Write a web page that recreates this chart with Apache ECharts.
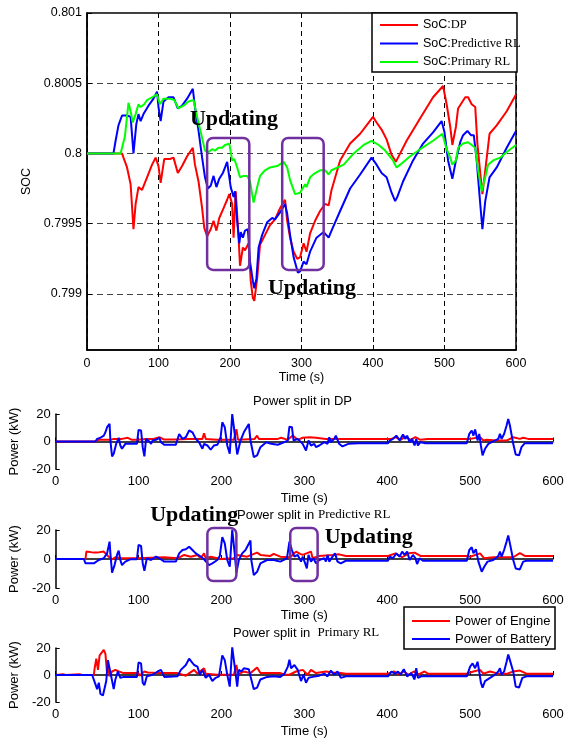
<!DOCTYPE html>
<html>
<head>
<meta charset="utf-8">
<script src="https://cdn.jsdelivr.net/npm/echarts@6/dist/echarts.min.js"></script>
<style>
  html, body { margin: 0; padding: 0; background: #fff; }
  #chart { width: 567px; height: 739px; }
</style>
</head>
<body>
<div id="chart"></div>
<script>
// SOC traces, [time (s), SOC]
const socDP = [[0,0.8],[49,0.8],[51,0.79997],[56,0.7999],[61,0.79978],[65,0.79946],[68,0.79964],[72,0.79976],[77,0.79974],[84,0.79983],[91,0.79992],[96,0.79997],[100,0.79991],[103,0.79979],[108,0.79996],[116,0.79996],[121,0.79997],[127,0.79986],[133,0.79991],[140,0.79998],[148,0.80004],[151,0.79992],[156,0.7998],[161,0.79961],[164,0.79947],[168,0.79941],[173,0.79946],[177,0.79952],[181,0.79945],[185,0.79954],[191,0.79961],[196,0.79967],[199,0.79971],[203,0.79964],[205,0.7994],[208,0.79973],[212,0.7994],[214,0.7992],[218,0.79933],[221,0.79931],[226,0.79936],[229,0.79909],[232,0.79897],[234,0.79895],[238,0.79911],[242,0.79935],[249,0.79942],[256,0.79949],[263,0.79953],[270,0.79961],[277,0.79967],[280,0.79952],[284,0.7994],[289,0.7993],[294,0.79925],[298,0.79926],[303,0.79936],[307,0.7993],[312,0.79943],[319,0.79952],[326,0.79959],[333,0.79964],[338,0.79963],[342,0.79974],[354,0.79995],[368,0.80007],[382,0.80014],[391,0.8002],[400,0.80026],[405,0.80022],[412,0.80017],[419,0.8001],[426,0.79999],[432,0.79994],[435,0.79997],[447,0.80009],[466,0.80025],[484,0.8004],[498,0.80048],[503,0.80035],[508,0.80019],[511,0.80006],[516,0.80019],[519,0.80032],[529,0.8004],[533,0.8004],[538,0.80035],[543,0.80033],[546,0.80007],[550,0.79986],[553,0.79971],[557,0.79988],[563,0.80014],[573,0.8002],[587,0.8003],[600,0.80042]];
const socPred = [[0,0.8],[37,0.8],[40,0.80009],[44,0.8002],[49,0.80027],[56,0.80027],[61,0.80026],[65,0.8],[69,0.80021],[72,0.80028],[75,0.80023],[79,0.80028],[86,0.80034],[93,0.80039],[98,0.80044],[100,0.80033],[103,0.80023],[107,0.80037],[114,0.8004],[121,0.8004],[127,0.80032],[133,0.80034],[140,0.80039],[148,0.80046],[151,0.80033],[156,0.80016],[161,0.79997],[165,0.79983],[169,0.79975],[173,0.79977],[177,0.79984],[181,0.79976],[185,0.79982],[190,0.79986],[196,0.79994],[198,0.79995],[201,0.79976],[205,0.79969],[207,0.79973],[210,0.79952],[213,0.79936],[215,0.79944],[218,0.7994],[221,0.79945],[225,0.79946],[228,0.79923],[232,0.79909],[234,0.79904],[237,0.79911],[240,0.79933],[245,0.79942],[252,0.79951],[259,0.79954],[263,0.79953],[270,0.79958],[277,0.79964],[280,0.79957],[284,0.79942],[289,0.79926],[295,0.79915],[298,0.79916],[303,0.79923],[307,0.79921],[312,0.7993],[321,0.7994],[331,0.79944],[338,0.7994],[342,0.79945],[354,0.79959],[368,0.79975],[382,0.79985],[398,0.79997],[405,0.79992],[412,0.79986],[419,0.79983],[426,0.79972],[431,0.79966],[434,0.79969],[442,0.7998],[456,0.79995],[470,0.80007],[484,0.80015],[496,0.80023],[500,0.80015],[505,0.79995],[511,0.79982],[516,0.79995],[522,0.80008],[526,0.80013],[532,0.80016],[537,0.80013],[541,0.80013],[545,0.79995],[550,0.79964],[553,0.79946],[557,0.79966],[563,0.79983],[573,0.7999],[587,0.80004],[600,0.80016]];
const socPrim = [[0,0.8],[47,0.8],[49,0.80004],[53,0.80012],[58,0.80036],[61,0.8003],[64,0.80022],[68,0.80028],[72,0.80035],[75,0.80033],[80,0.80035],[84,0.80038],[91,0.8004],[98,0.80042],[102,0.80035],[107,0.80039],[116,0.80039],[122,0.80038],[128,0.80032],[135,0.80034],[142,0.80037],[149,0.80038],[154,0.80026],[161,0.80011],[165,0.80002],[170,0.80001],[175,0.80003],[179,0.80002],[184,0.80004],[189,0.80004],[193,0.80006],[199,0.80007],[203,0.79995],[206,0.79996],[210,0.7999],[214,0.79983],[219,0.79984],[224,0.79984],[228,0.7998],[233,0.79965],[238,0.79976],[242,0.79984],[249,0.79988],[256,0.7999],[266,0.79991],[275,0.79994],[280,0.7999],[284,0.79981],[291,0.79971],[298,0.79972],[305,0.79978],[307,0.79976],[312,0.79983],[319,0.79986],[326,0.79988],[333,0.79988],[338,0.79985],[342,0.79988],[359,0.79992],[373,0.8],[387,0.80006],[398,0.80009],[408,0.80006],[417,0.80002],[428,0.79995],[433,0.7999],[438,0.79992],[452,0.79998],[466,0.80003],[484,0.80009],[497,0.80014],[503,0.80003],[508,0.79997],[511,0.79992],[516,0.79995],[519,0.80004],[526,0.80007],[533,0.80008],[538,0.80006],[543,0.80004],[547,0.79988],[552,0.79973],[557,0.79983],[561,0.79992],[568,0.79995],[578,0.79997],[587,0.80001],[600,0.80006]];

// power split traces, [time (s), kW]
const engDP = [[0,0],[48,0],[52,1.2],[66,1.2],[70,1.9],[80,1.9],[87,2.7],[92,1.2],[99,1.2],[110,1.9],[118,1.9],[125,3.1],[131,1.4],[145,1.4],[160,1.9],[177,1.9],[179,6.0],[181,1.9],[195,1.2],[215,1.2],[218,9.0],[220,1.2],[240,1.9],[243,4.3],[245,1.9],[268,1.9],[272,2.7],[280,1.2],[286,4.3],[292,1.2],[298,2.7],[306,3.1],[314,2.7],[326,1.9],[405,1.9],[410,3.1],[416,1.2],[422,3.6],[428,1.2],[434,3.1],[440,1.2],[449,1.9],[500,1.9],[512,3.1],[516,0.7],[520,1.2],[532,0.7],[544,0.7],[552,3.1],[560,1.9],[564,2.7],[570,1.9],[600,1.9]];
const batDP = [[0,0],[48,0],[50,1.9],[54,2.7],[58,4.3],[60,6.7],[62,10.4],[65,12.8],[66,0.7],[68,-10.8],[70,-8.9],[73,-1.7],[76,2.7],[78,-2.9],[80,-5.3],[84,-1.7],[98,-1.7],[100,8.4],[103,8.0],[105,-4.1],[107,-10.8],[109,1.9],[113,0],[115,-1.7],[117,0.7],[121,1.2],[125,2.7],[127,-0.5],[131,-2.4],[145,-2.4],[149,5.5],[153,1.9],[157,3.1],[161,8.0],[165,6.7],[169,1.9],[173,-0.5],[177,-5.3],[179,-1.7],[183,-2.9],[187,-6.0],[191,-2.9],[195,-2.4],[199,3.1],[201,14.0],[204,10.4],[207,-2.9],[210,-8.9],[213,20],[216,5.5],[219,-9.4],[223,0.7],[227,6.7],[233,12.8],[235,0.7],[239,-11.3],[243,-10.1],[247,-4.1],[254,-0.5],[260,-1.7],[268,-2.4],[276,-0.5],[280,0.7],[282,10.8],[285,10.4],[287,0.7],[292,1.9],[298,-1.7],[302,-6.5],[305,0.7],[308,-2.9],[312,-1.7],[314,-4.1],[318,-2.9],[324,-0.5],[328,-1.7],[330,3.1],[332,-0.5],[336,1.9],[338,4.3],[342,-1.7],[346,-3.6],[353,-1.7],[365,-1.2],[401,-1.2],[403,0.7],[407,1.9],[411,4.3],[415,0.7],[419,5.1],[422,1.9],[424,4.3],[427,-0.5],[430,1.9],[433,-2.9],[435,1.9],[437,-2.9],[440,-0.5],[445,-1.2],[496,-1.2],[499,5.5],[502,8.0],[504,4.3],[506,8.7],[509,0.7],[511,5.5],[513,-2.9],[515,-10.1],[518,-5.3],[522,-1.7],[526,-0.5],[530,0.7],[534,1.9],[536,5.5],[538,1.9],[541,5.5],[544,11.6],[546,16.4],[548,11.6],[552,-1.7],[555,-9.4],[559,-10.1],[562,-4.1],[566,-1.2],[600,-1.2]];
const engPred = [[0,0],[36,0],[37,5.1],[46,4.4],[50,4.4],[58,5.1],[64,1.6],[68,-0.2],[72,1.2],[80,0.5],[98,0.5],[115,0.9],[131,1.2],[147,0.5],[155,2.8],[163,1.6],[171,2.8],[175,0.5],[179,3.9],[181,0.5],[187,1.6],[199,0],[215,0.5],[219,2.8],[231,1.6],[243,4.4],[247,2.8],[259,2.1],[263,3.5],[271,1.6],[283,1.2],[290,5.1],[295,3.5],[298,2.8],[308,5.1],[310,0.5],[318,2.1],[334,2.8],[342,3.2],[350,2.1],[401,2.1],[410,3.9],[418,1.2],[426,3.9],[433,4.4],[440,2.1],[496,2.1],[500,1.6],[512,3.9],[517,0.5],[528,1.2],[552,1.2],[560,4.0],[566,2.1],[600,2.1]];
const batPred = [[0,0],[8,0],[10,1.2],[13,0],[34,0],[36,-3.0],[46,-3.0],[52,-0.7],[58,0.5],[60,1.6],[62,3.9],[65,12.0],[66,3.9],[68,-9.5],[71,-4.2],[74,2.8],[76,5.8],[78,-0.7],[80,-4.2],[84,-1.8],[90,-0.2],[98,-0.2],[100,9.7],[103,9.0],[105,-3.0],[107,-8.1],[110,0.5],[115,-0.7],[121,1.6],[125,0.5],[131,-1.8],[145,-1.8],[149,3.9],[153,6.2],[157,6.7],[161,8.5],[165,6.2],[169,3.9],[175,1.6],[179,-0.2],[185,-4.2],[189,-3.0],[195,-0.7],[198,2.1],[201,15.0],[204,10.8],[207,-0.7],[210,-5.3],[213,20.1],[216,3.9],[218,-9.5],[221,-0.7],[225,3.9],[229,6.2],[235,12.7],[236,-0.7],[239,-11.1],[243,-8.8],[247,-3.0],[255,-0.7],[263,-0.7],[271,-1.8],[279,0.5],[282,12.0],[285,6.2],[288,1.6],[292,2.8],[296,-1.8],[298,1.6],[301,-3.0],[303,-6.5],[305,2.8],[308,-1.8],[311,0.5],[314,-3.0],[318,-0.7],[324,0.5],[326,-1.8],[328,2.8],[330,-1.8],[334,1.6],[337,3.9],[340,-1.8],[344,-3.0],[350,-1.2],[401,-1.2],[403,1.6],[407,0.5],[411,3.9],[415,1.6],[418,5.1],[421,2.8],[424,5.1],[427,-0.7],[431,2.8],[434,0.5],[436,-3.5],[439,0.5],[443,-1.2],[496,-1.2],[499,6.2],[502,8.1],[504,3.9],[507,6.7],[510,-1.8],[512,-5.3],[514,-8.8],[517,-5.3],[521,-1.8],[528,-0.7],[534,2.1],[536,5.1],[538,1.6],[541,6.2],[544,12.0],[546,16.2],[548,10.8],[552,-0.7],[555,-6.5],[560,-7.2],[564,-1.8],[568,-1.2],[600,-1.2]];
const engPrim = [[0,0],[9,0.5],[12,0],[29,0.5],[32,0],[46,0],[47,5.0],[49,12.1],[51,3.8],[53,14.5],[56,16.9],[58,18.6],[60,15.7],[62,1.4],[63,8.6],[65,-1.0],[68,2.6],[72,3.8],[76,2.6],[82,1.4],[100,1.4],[101,-0.5],[107,2.6],[111,1.9],[123,1.4],[147,1.4],[157,-0.5],[167,3.8],[171,1.0],[179,5.0],[181,1.0],[195,0.2],[215,0.2],[218,7.4],[220,0.2],[227,2.6],[235,1.4],[243,5.5],[247,1.4],[271,1.4],[278,0.2],[282,0.2],[290,2.6],[298,3.8],[304,0.2],[308,3.8],[314,1.4],[326,2.6],[334,1.9],[344,1.4],[350,1.0],[401,1.0],[408,2.6],[414,0.5],[420,2.6],[426,0.2],[432,2.6],[438,0.5],[445,2.6],[449,1.0],[496,1.0],[504,2.6],[512,3.8],[516,1.0],[524,2.6],[534,1.0],[545,1.0],[552,2.6],[560,3.3],[568,1.0],[600,1.0]];
const batPrim = [[0,0],[7,0],[9,1.0],[11,0],[27,0],[29,0.5],[31,0],[44,0],[46,-1.0],[48,-6.9],[50,-10.5],[52,-5.7],[54,-14.0],[57,-15.2],[59,-16.4],[61,-4.5],[63,11.0],[65,12.1],[67,-1.0],[70,-10.5],[72,-3.3],[75,2.6],[78,-2.1],[82,-1.4],[98,-1.4],[100,9.3],[103,8.6],[105,-5.7],[107,-7.6],[110,-1.0],[117,0.2],[123,2.6],[127,3.8],[131,-1.4],[147,-1.0],[151,3.8],[157,7.4],[161,12.1],[164,9.8],[167,7.4],[171,6.2],[174,0.2],[177,3.8],[181,-2.1],[185,0.2],[189,-4.5],[193,-2.1],[197,-1.0],[201,14.5],[204,11.0],[207,0.2],[210,-8.6],[213,20.5],[216,6.2],[219,-8.6],[221,3.8],[224,2.6],[227,5.0],[233,4.3],[235,-1.0],[239,-10.5],[243,-9.3],[247,-3.3],[255,-1.4],[263,-1.0],[271,-1.4],[276,1.0],[280,6.0],[282,11.4],[284,5.0],[288,7.4],[292,3.8],[296,-4.5],[299,0.2],[302,-5.7],[305,-2.1],[310,-1.4],[318,-0.5],[324,1.0],[328,-1.0],[332,3.3],[336,0.2],[340,2.6],[344,-2.1],[350,-1.0],[401,-1.0],[405,2.6],[409,1.0],[413,2.6],[416,0.2],[420,4.3],[424,-1.0],[429,1.4],[433,-3.3],[435,5.0],[437,-2.1],[441,-1.0],[496,-1.0],[500,6.2],[503,8.6],[506,5.0],[509,9.8],[511,2.6],[513,-5.7],[515,-9.3],[518,-4.5],[524,-2.1],[530,0.2],[534,2.6],[536,5.0],[538,0.2],[541,2.6],[544,9.8],[546,15.2],[548,11.0],[552,2.6],[555,-8.6],[559,-9.3],[563,-2.1],[568,-1.0],[600,-1.0]];

const socTicks = [0.799, 0.7995, 0.8, 0.8005, 0.801];
const socNames = ['SoC:DP', 'SoC:Predictive RL', 'SoC:Primary RL'];
const powerNames = ['Power of Engine', 'Power of Battery'];

// "Updating" boxes in data units: [t0, t1, top, bottom]
const updBoxesSoc = [[168, 227, 0.80011, 0.79917], [273, 331, 0.80011, 0.79917]];
const updBoxesPred = [[183, 218, 21.4, -15.2], [283, 316, 21.4, -15.2]];
// "Updating" label anchors: [t, value] (left edge, vertical middle)
const updLabelsSoc = [[144, 0.80024], [253, 0.79904]];
const updLabelsPred = [[114, 30.3], [324.5, 15.2]];

const SANS = 'Liberation Sans';
const SERIF = 'Liberation Serif';
const RED = '#ff0000', BLUE = '#0000ff', GREEN = '#00ff00', PURPLE = '#7030a0';

const chart = echarts.init(document.getElementById('chart'));

const axisLine = { show: true, lineStyle: { color: '#000', width: 1.5 } };

function powerX(i) {
  return {
    gridIndex: i, type: 'value', min: 0, max: 600, interval: 100,
    axisLine: axisLine,
    axisTick: { show: true, inside: true, length: 4, lineStyle: { color: '#000' } },
    axisLabel: { color: '#000', fontSize: 13, margin: 6, fontFamily: SANS },
    splitLine: { show: false },
    name: 'Time (s)', nameLocation: 'middle', nameGap: i === 2 ? 21 : 23,
    nameTextStyle: { color: '#000', fontSize: 13, fontFamily: SANS }
  };
}
function powerY(i) {
  return {
    gridIndex: i, type: 'value', min: -20, max: 20, interval: 20,
    axisLine: axisLine,
    axisTick: { show: true, inside: true, length: 4, lineStyle: { color: '#000' } },
    axisLabel: { color: '#000', fontSize: 13, margin: 5, fontFamily: SANS },
    splitLine: { show: false },
    name: 'Power (kW)', nameLocation: 'middle', nameGap: 29,
    nameTextStyle: { color: '#000', fontSize: 13, fontFamily: SANS }
  };
}
function line(name, data, color, idx) {
  return {
    name: name, type: 'line', data: data, xAxisIndex: idx, yAxisIndex: idx,
    showSymbol: false, symbol: 'none',
    lineStyle: { color: color, width: 2 }, itemStyle: { color: color }
  };
}
const titleRich = {
  a: { fontFamily: SANS, fontSize: 13, fontWeight: 'normal', color: '#000', lineHeight: 14 },
  b: { fontFamily: SERIF, fontSize: 13, fontWeight: 'normal', color: '#000', lineHeight: 14 }
};

chart.setOption({
  animation: false,
  backgroundColor: '#fff',
  textStyle: { fontFamily: SANS },
  title: [
    { text: '{a|Power split in DP}', left: 253, top: 394, padding: 0, textStyle: { fontWeight: 'normal', rich: titleRich } },
    { text: '{a|Power split in }{b|Predictive RL}', left: 237, top: 508, padding: 0, textStyle: { fontWeight: 'normal', rich: titleRich } },
    { text: '{a|Power split in  }{b|Primary RL}', left: 233, top: 626, padding: 0, textStyle: { fontWeight: 'normal', rich: titleRich } }
  ],
  grid: [
    { left: 87, top: 13, width: 429, height: 337, show: true, borderColor: '#000', borderWidth: 1.5, backgroundColor: 'transparent' },
    { left: 52, top: 414, width: 501, height: 55 },
    { left: 52, top: 530, width: 501, height: 58 },
    { left: 52, top: 648, width: 501, height: 56 }
  ],
  xAxis: [
    {
      gridIndex: 0, type: 'value', min: 0, max: 600, interval: 100,
      axisLine: axisLine,
      axisTick: { show: true, inside: true, length: 5, lineStyle: { color: '#000' } },
      axisLabel: { color: '#000', fontSize: 12.5, margin: 7, fontFamily: SANS },
      splitLine: { show: true, lineStyle: { color: '#000', type: [5, 4], width: 1 } },
      name: 'Time (s)', nameLocation: 'middle', nameGap: 21,
      nameTextStyle: { color: '#000', fontSize: 12.5, fontFamily: SANS }
    },
    powerX(1), powerX(2), powerX(3)
  ],
  yAxis: [
    {
      gridIndex: 0, type: 'value', min: 0.7986, max: 0.801,
      axisLine: axisLine,
      axisTick: { show: true, inside: true, length: 5, customValues: socTicks, lineStyle: { color: '#000' } },
      axisLabel: { customValues: socTicks, color: '#000', fontSize: 12.5, margin: 5, fontFamily: SANS,
        formatter: v => String(+(+v).toFixed(4)) },
      splitLine: { show: true, lineStyle: { color: '#444', type: [6, 4], width: 1 } },
      name: 'SOC', nameLocation: 'middle', nameGap: 50,
      nameTextStyle: { color: '#000', fontSize: 12.5, fontFamily: SANS }
    },
    powerY(1), powerY(2), powerY(3)
  ],
  legend: [
    {
      data: socNames, orient: 'vertical', left: 380, top: 18, padding: 0, z: 10,
      icon: 'rect', itemWidth: 38, itemHeight: 2, itemGap: 4.5, itemTextGap: 5,
      formatter: n => '{a|SoC:}{b|' + n.slice(4) + '}',
      textStyle: { lineHeight: 14, rich: {
        a: { fontFamily: SANS, fontSize: 12.5, color: '#000', lineHeight: 14 },
        b: { fontFamily: SERIF, fontSize: 12.5, color: '#000', lineHeight: 14 }
      } }
    },
    {
      data: powerNames, orient: 'vertical', left: 412, top: 614, padding: 0, z: 10,
      icon: 'rect', itemWidth: 38, itemHeight: 2, itemGap: 4, itemTextGap: 6,
      textStyle: { fontFamily: SANS, fontSize: 13, color: '#000', lineHeight: 14 }
    }
  ],
  series: [
    line('SoC:DP', socDP, RED, 0),
    line('SoC:Predictive RL', socPred, BLUE, 0),
    line('SoC:Primary RL', socPrim, GREEN, 0),
    line('Power of Engine', engDP, RED, 1),
    line('Power of Battery', batDP, BLUE, 1),
    line('Power of Engine', engPred, RED, 2),
    line('Power of Battery', batPred, BLUE, 2),
    line('Power of Engine', engPrim, RED, 3),
    line('Power of Battery', batPrim, BLUE, 3)
  ]
});

// annotations placed through the grid's own coordinate system
function boxEl(grid, b) {
  const p0 = chart.convertToPixel({ gridIndex: grid }, [b[0], b[2]]);
  const p1 = chart.convertToPixel({ gridIndex: grid }, [b[1], b[3]]);
  return {
    type: 'rect', z: 5,
    shape: { x: p0[0], y: p0[1], width: p1[0] - p0[0], height: p1[1] - p0[1], r: 6 },
    style: { fill: null, stroke: PURPLE, lineWidth: 2.5 }
  };
}
function labelEl(grid, l) {
  const p = chart.convertToPixel({ gridIndex: grid }, l);
  return {
    type: 'text', z: 6, x: p[0], y: p[1],
    style: { text: 'Updating', fontFamily: SERIF, fontWeight: 'bold', fontSize: 22,
      fill: '#000', align: 'left', verticalAlign: 'middle' }
  };
}

const els = [
  { type: 'rect', z: 3, shape: { x: 372, y: 13, width: 145, height: 59 },
    style: { fill: '#fff', stroke: '#000', lineWidth: 1.5 } },
  { type: 'rect', z: 3, shape: { x: 404, y: 607, width: 151, height: 42 },
    style: { fill: '#fff', stroke: '#000', lineWidth: 1.5 } }
];
updBoxesSoc.forEach(b => els.push(boxEl(0, b)));
updBoxesPred.forEach(b => els.push(boxEl(2, b)));
updLabelsSoc.forEach(l => els.push(labelEl(0, l)));
updLabelsPred.forEach(l => els.push(labelEl(2, l)));

chart.setOption({ graphic: els });
</script>
</body>
</html>
